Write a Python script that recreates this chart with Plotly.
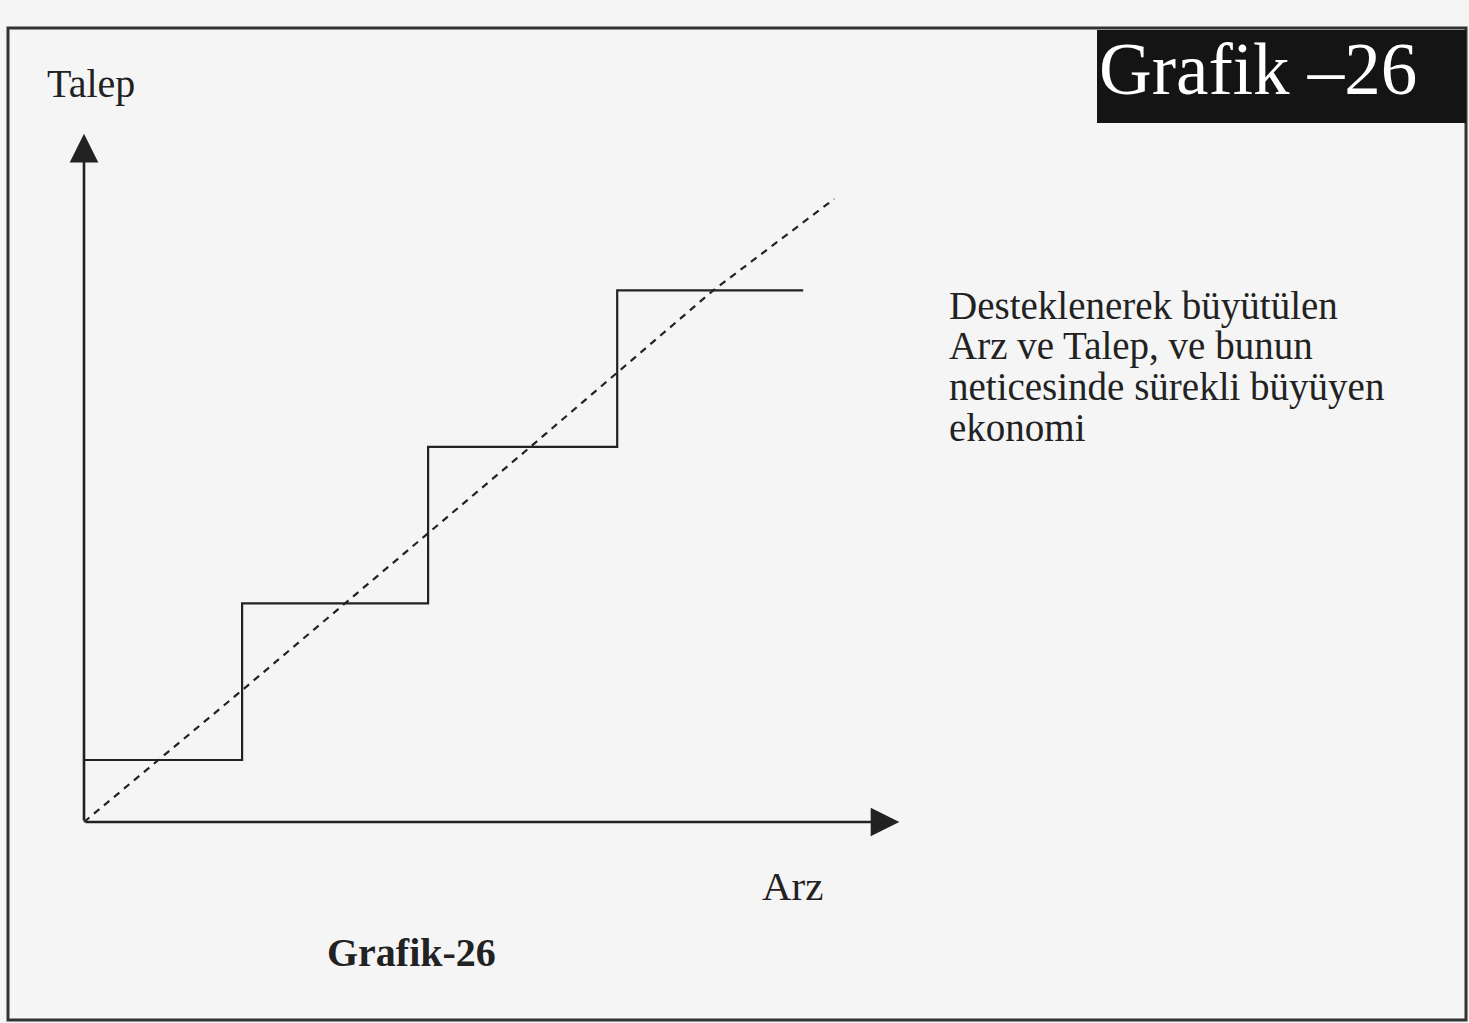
import plotly.graph_objects as go

W, H = 1469, 1023

# ---- data (schematic units) ----
arz_steps = [0, 5.1, 11.1, 17.2, 23.2]          # supply (x) where demand steps up
talep_steps = [2.0, 7.05, 12.1, 17.15, 17.15]    # demand level of each step
trend_arz = [0, 5.1, 14.4, 20.3, 24.2]           # dashed growth path
trend_talep = [0, 4.25, 12.1, 17.15, 20.1]
axis_x_max = 26.3
axis_y_max = 22.2

y_label = "Talep"
x_label = "Arz"
badge_text = "Grafik \u201326"
caption = "Grafik-26"
desc_lines = ["Desteklenerek büyütülen",
              "Arz ve Talep, ve bunun",
              "neticesinde sürekli büyüyen",
              "ekonomi"]

# ---- layout geometry ----
UNIT = 31.0
OX, OY = 84, 822
INK = "#222222"
FONT = "Liberation Serif, Times New Roman, serif"


def px(x):
    return x / W


def py(y):
    return 1 - y / H


fig = go.Figure()

fig.add_trace(go.Scatter(
    x=arz_steps, y=talep_steps, mode="lines", line_shape="hv",
    line=dict(color=INK, width=2.2), hoverinfo="skip", showlegend=False))

fig.add_trace(go.Scatter(
    x=trend_arz, y=trend_talep, mode="lines",
    line=dict(color=INK, width=2.2, dash="7px,6px"), hoverinfo="skip",
    showlegend=False))

annotations = []
# axes with arrows
for (tx, ty) in [(axis_x_max, 0), (0, axis_y_max)]:
    annotations.append(dict(
        x=tx, y=ty, ax=0, ay=0, xref="x", yref="y", axref="x", ayref="y",
        text="", showarrow=True, arrowhead=2, arrowsize=2.2, arrowwidth=2.6,
        arrowcolor=INK, standoff=0, startstandoff=0))


def label(text, x, yc, size, color=INK, bold=False):
    t = f"<b>{text}</b>" if bold else text
    annotations.append(dict(
        x=px(x), y=py(yc), xref="paper", yref="paper", text=t,
        showarrow=False, xanchor="left", yanchor="middle",
        font=dict(family=FONT, size=size, color=color)))


label(y_label, 45, 83, 40)
label(x_label, 760, 886, 41)
label(caption, 325, 952, 40, bold=True)
label(badge_text, 1097, 70, 73, color="#ffffff")
for i, line in enumerate(desc_lines):
    label(line, 947, 306 + i * 40.5, 39)

shapes = [
    dict(type="rect", xref="paper", yref="paper", x0=px(8), x1=px(1466),
         y0=py(1020), y1=py(28), line=dict(color="#333333", width=3),
         fillcolor="rgba(0,0,0,0)", layer="below"),
    dict(type="rect", xref="paper", yref="paper", x0=px(1097), x1=px(1466),
         y0=py(123), y1=py(30), line=dict(width=0), fillcolor="#141414",
         layer="below"),
]

fig.update_layout(
    width=W, height=H, margin=dict(l=0, r=0, t=0, b=0),
    paper_bgcolor="#f5f5f5", plot_bgcolor="rgba(0,0,0,0)",
    xaxis=dict(range=[-OX / UNIT, (W - OX) / UNIT], visible=False,
               domain=[0, 1], fixedrange=True),
    yaxis=dict(range=[(OY - H) / UNIT, OY / UNIT], visible=False,
               domain=[0, 1], fixedrange=True),
    annotations=annotations, shapes=shapes, showlegend=False,
)

fig.write_html("out.html", config={"displayModeBar": False},
               post_script="document.body.style.margin='0';document.body.style.overflow='hidden';")
